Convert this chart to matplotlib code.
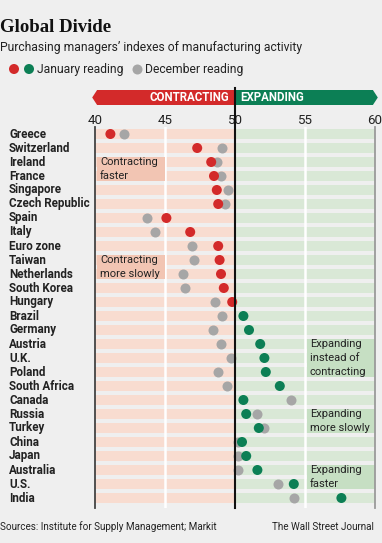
import matplotlib
matplotlib.use("Agg")
import matplotlib.pyplot as plt
from matplotlib.patches import Polygon, Rectangle

countries = ["Greece", "Switzerland", "Ireland", "France", "Singapore", "Czech Republic",
             "Spain", "Italy", "Euro zone", "Taiwan", "Netherlands", "South Korea",
             "Hungary", "Brazil", "Germany", "Austria", "U.K.", "Poland", "South Africa",
             "Canada", "Russia", "Turkey", "China", "Japan", "Australia", "U.S.", "India"]
january = [41.1, 47.3, 48.3, 48.5, 48.7, 48.8, 45.1, 46.8, 48.8, 48.9, 49.0, 49.2,
           49.8, 50.6, 51.0, 51.8, 52.1, 52.2, 53.2, 50.6, 50.8, 51.7, 50.5, 50.8,
           51.6, 54.2, 57.6]
december = [42.1, 49.1, 48.7, 49.0, 49.5, 49.3, 43.7, 44.3, 46.9, 47.1, 46.3, 46.4,
            48.6, 49.1, 48.4, 49.0, 49.7, 48.8, 49.4, 54.0, 51.6, 52.1, 50.2, 50.2,
            50.2, 53.1, 54.2]
ticks = [40, 45, 50, 55, 60]
notes = [("Contracting\nfaster", 2, 3), ("Contracting\nmore slowly", 9, 10),
         ("Expanding\ninstead of\ncontracting", 15, 17),
         ("Expanding\nmore slowly", 20, 21), ("Expanding\nfaster", 24, 25)]

BG = "#efefef"
RED = "#d32a2a"
GREEN = "#0c7f55"
GRAY = "#a6a6a6"
PINK = "#f8dcd0"
LGREEN = "#d9e8d6"
DPINK = "#f2c5b3"
DGREEN = "#c6dfc3"
SANS = ["Roboto", "DejaVu Sans"]

W, H = 382, 543
fig = plt.figure(figsize=(W / 100, H / 100), dpi=100, facecolor=BG)

def fx(px):
    return px / W

def fy(py):
    return 1 - py / H

top_px, bot_px = 127, 508
ax = fig.add_axes([fx(95), fy(bot_px), fx(375) - fx(95), (bot_px - top_px) / H])
ax.set_facecolor("none")
n = len(countries)
row0, step = 134, 14
ax.set_xlim(40, 60)
ax.set_ylim((bot_px - row0) / step, (top_px - row0) / step)
for s in ax.spines.values():
    s.set_visible(False)
ax.set_xticks([])
ax.set_yticks([])

ys = list(range(n))
# row bands
ax.barh(ys, [10] * n, left=40, height=0.72, color=PINK, zorder=1)
ax.barh(ys, [10] * n, left=50, height=0.72, color=LGREEN, zorder=1)
# white gridlines
for t in [45, 55]:
    ax.axvline(t, color="white", lw=1.8, zorder=2)

# annotation boxes
for text, r0, r1 in notes:
    contracting = text.startswith("Contracting")
    x0 = 40.15 if contracting else 55.15
    ax.add_patch(Rectangle((x0, r0 - 0.36), 4.85, r1 - r0 + 0.72,
                           color=DPINK if contracting else DGREEN, zorder=2, lw=0))
    ax.text(x0 + 0.2, (r0 + r1) / 2, text, ha="left", va="center", fontsize=8.0,
            family=SANS, color="#222222", linespacing=1.45, zorder=3)

# dots
ax.scatter(december, ys, s=52, color=GRAY, zorder=4, lw=0)
ax.scatter(january, ys, s=52, color=[RED if v < 50 else GREEN for v in january],
           zorder=5, lw=0)

# axis lines
ax.plot([40, 40], [-0.5, (bot_px - row0) / step], color="#444444", lw=1.3,
        zorder=6, clip_on=False)
ax.plot([60, 60], [-0.5, (bot_px - row0) / step], color="#9a9a9a", lw=1.3,
        zorder=6, clip_on=False)
ax.plot([50, 50], [(88 - row0) / step, (bot_px - row0) / step], color="#111111",
        lw=1.5, zorder=7, clip_on=False)

# tick labels
for t in ticks:
    ax.text(t, (120 - row0) / step, str(t), ha="center", va="center", fontsize=9.6,
            family=SANS, color="#222222", clip_on=False)

# country labels
for i, c in enumerate(countries):
    fig.text(fx(9), fy(row0 + step * i), c, ha="left", va="center", fontsize=8.4,
             family=SANS, weight="bold", color="#222222")

# arrow bar
ya, yb = (90 - row0) / step, (105 - row0) / step
ym = (ya + yb) / 2
ax.add_patch(Polygon([(39.8, ym), (40.15, ya), (50, ya), (50, yb), (40.15, yb)],
                     closed=True, color=RED, clip_on=False, lw=0))
ax.add_patch(Polygon([(50, ya), (59.85, ya), (60.2, ym), (59.85, yb), (50, yb)],
                     closed=True, color=GREEN, clip_on=False, lw=0))
ax.text(49.6, ym, "CONTRACTING", ha="right", va="center", color="white",
        fontsize=8.3, weight="bold", family=SANS, clip_on=False)
ax.text(50.4, ym, "EXPANDING", ha="left", va="center", color="white",
        fontsize=8.3, weight="bold", family=SANS, clip_on=False)

# header
fig.text(0, fy(28), "Global Divide", ha="left", va="center", fontsize=13.5,
         weight="bold", family=["Liberation Serif", "DejaVu Serif"], color="#111111")
fig.text(0, fy(48), "Purchasing managers\u2019 indexes of manufacturing activity",
         ha="left", va="center", fontsize=8.7, family=SANS, color="#222222")
# legend
lax = fig.add_axes([0, fy(80), 1, 22 / H])
lax.set_xlim(0, W)
lax.set_ylim(0, 22)
lax.axis("off")
lax.scatter([14, 29], [11, 11], s=52, color=[RED, GREEN], lw=0)
lax.scatter([137], [11], s=52, color=GRAY, lw=0)
lax.text(37, 11, "January reading", ha="left", va="center", fontsize=8.7,
         family=SANS, color="#222222")
lax.text(145, 11, "December reading", ha="left", va="center", fontsize=8.7,
         family=SANS, color="#222222")

# footer
fig.text(0, fy(527), "Sources: Institute for Supply Management; Markit", ha="left",
         va="center", fontsize=7.1, family=SANS, color="#222222")
fig.text(fx(374), fy(527), "The Wall Street Journal", ha="right", va="center",
         fontsize=7.1, family=SANS, color="#222222")

fig.savefig("out.png", dpi=100, facecolor=BG)
